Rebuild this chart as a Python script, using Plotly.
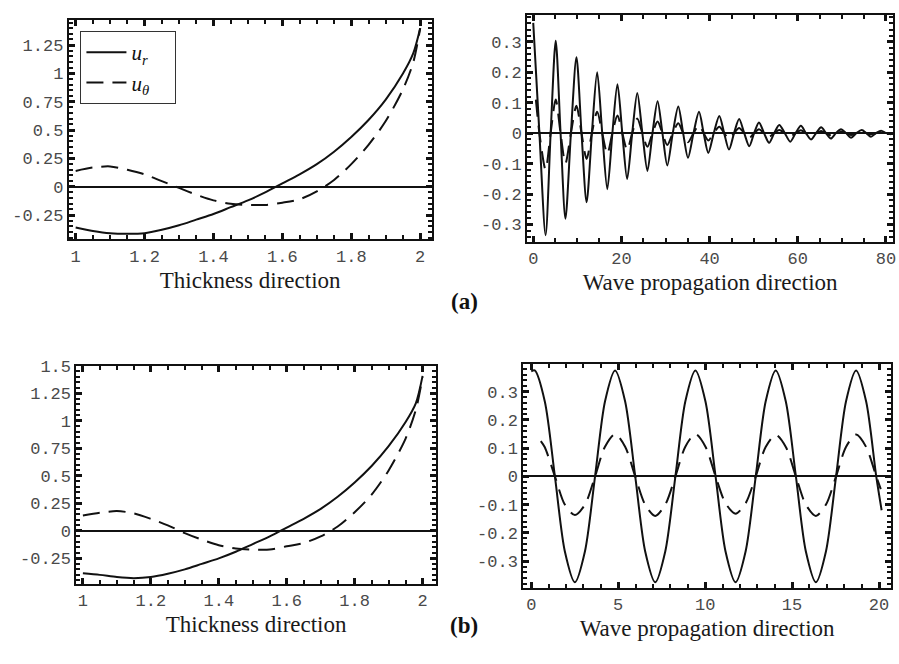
import plotly.graph_objects as go

# ---- (a) thickness direction ----
a_thick_x = [1.00, 1.05, 1.10, 1.15, 1.20, 1.25, 1.30, 1.35, 1.40, 1.45, 1.50,
             1.55, 1.60, 1.65, 1.70, 1.75, 1.80, 1.85, 1.90, 1.95, 1.98, 2.00]
a_thick_ur = [-0.36, -0.39, -0.41, -0.415, -0.41, -0.38, -0.34, -0.29, -0.24, -0.18, -0.12,
              -0.05, 0.03, 0.11, 0.20, 0.31, 0.44, 0.59, 0.77, 1.00, 1.18, 1.40]
a_thick_ut = [0.14, 0.17, 0.18, 0.15, 0.11, 0.05, -0.01, -0.07, -0.12, -0.15, -0.16,
              -0.16, -0.14, -0.11, -0.04, 0.06, 0.20, 0.37, 0.58, 0.86, 1.10, 1.40]

# ---- (a) wave propagation direction (decaying) ----
a_wave_x = [0.0, 1.4, 2.8, 3.95, 5.1, 6.2, 7.3, 8.55, 9.8, 10.95, 12.1, 13.3, 14.5, 15.65,
            16.8, 17.95, 19.1, 20.2, 21.3, 22.45, 23.6, 24.75, 25.9, 27.05, 28.2, 29.3,
            30.4, 31.65, 32.9, 34.0, 35.1, 36.35, 37.6, 38.65, 39.7, 40.95, 42.2, 43.3,
            44.4, 45.55, 46.7, 47.85, 49.0, 50.1, 51.2, 52.35, 53.5, 54.65, 55.8, 57.05,
            58.3, 59.5, 60.7, 61.85, 63.0, 64.15, 65.3, 66.4, 67.5, 68.65, 69.8, 70.95,
            72.1, 73.3, 74.5, 75.55, 76.6, 77.75, 78.9, 80.05, 81.2]
a_wave_ur = [0.362, 0.0, -0.335, 0.0, 0.303, 0.0, -0.281, 0.0, 0.249, 0.0, -0.227, 0.0,
             0.200, 0.0, -0.184, 0.0, 0.160, 0.0, -0.151, 0.0, 0.132, 0.0, -0.124, 0.0,
             0.105, 0.0, -0.106, 0.0, 0.087, 0.0, -0.081, 0.0, 0.070, 0.0, -0.065, 0.0,
             0.056, 0.0, -0.054, 0.0, 0.046, 0.0, -0.043, 0.0, 0.035, 0.0, -0.032, 0.0,
             0.027, 0.0, -0.028, 0.0, 0.024, 0.0, -0.021, 0.0, 0.019, 0.0, -0.018, 0.0,
             0.013, 0.0, -0.015, 0.0, 0.010, 0.0, -0.012, 0.0, 0.008, 0.0, -0.004]
a_wave_xt = [0.6] + a_wave_x[1:]
a_wave_ut = [0.11, 0.0, -0.12, 0.0, 0.11, 0.0, -0.10, 0.0, 0.09, 0.0, -0.085, 0.0,
             0.07, 0.0, -0.068, 0.0, 0.058, 0.0, -0.055, 0.0, 0.048, 0.0, -0.045, 0.0,
             0.038, 0.0, -0.039, 0.0, 0.032, 0.0, -0.030, 0.0, 0.026, 0.0, -0.024, 0.0,
             0.021, 0.0, -0.020, 0.0, 0.017, 0.0, -0.016, 0.0, 0.013, 0.0, -0.012, 0.0,
             0.010, 0.0, -0.010, 0.0, 0.009, 0.0, -0.008, 0.0, 0.007, 0.0, -0.007, 0.0,
             0.005, 0.0, -0.006, 0.0, 0.004, 0.0, -0.004, 0.0, 0.003, 0.0, -0.002]

# ---- (b) thickness direction ----
b_thick_x = [1.00, 1.05, 1.10, 1.15, 1.20, 1.25, 1.30, 1.35, 1.40, 1.45, 1.50,
             1.55, 1.60, 1.65, 1.70, 1.75, 1.80, 1.85, 1.90, 1.95, 1.98, 2.00]
b_thick_ur = [-0.385, -0.40, -0.42, -0.43, -0.42, -0.39, -0.35, -0.30, -0.25, -0.19, -0.12,
              -0.05, 0.03, 0.11, 0.20, 0.31, 0.44, 0.59, 0.77, 0.99, 1.16, 1.41]
b_thick_ut = [0.14, 0.165, 0.18, 0.16, 0.11, 0.05, -0.02, -0.08, -0.13, -0.16, -0.17,
              -0.17, -0.14, -0.11, -0.05, 0.04, 0.17, 0.33, 0.55, 0.84, 1.10, 1.40]

# ---- (b) wave propagation direction (steady) ----
b_wave_x = [0.0, 0.2, 0.78, 1.36, 1.93, 2.51, 3.09, 3.67, 4.24, 4.82, 5.40, 5.98, 6.55,
            7.13, 7.71, 8.29, 8.86, 9.44, 10.02, 10.60, 11.17, 11.75, 12.33, 12.91,
            13.48, 14.06, 14.64, 15.22, 15.79, 16.37, 16.95, 17.53, 18.10, 18.68, 19.26,
            19.84, 20.15]
b_wave_ur = [0.372, 0.375, 0.265, 0.0, -0.265, -0.375, -0.265, 0.0, 0.265, 0.375, 0.265,
             0.0, -0.265, -0.375, -0.265, 0.0, 0.265, 0.375, 0.265, 0.0, -0.265, -0.375,
             -0.265, 0.0, 0.265, 0.375, 0.265, 0.0, -0.265, -0.375, -0.265, 0.0, 0.265,
             0.375, 0.265, 0.0, -0.12]
b_wave_xt = [0.55, 0.78, 1.36, 1.93, 2.51, 3.09, 3.67, 4.24, 4.82, 5.40, 5.98, 6.55,
             7.13, 7.71, 8.29, 8.86, 9.44, 10.02, 10.60, 11.17, 11.75, 12.33, 12.91,
             13.48, 14.06, 14.64, 15.22, 15.79, 16.37, 16.95, 17.53, 18.10, 18.68, 19.26,
             19.84, 20.10]
b_wave_ut = [0.125, 0.103, 0.0, -0.100, -0.137, -0.100, 0.0, 0.105, 0.150, 0.105, 0.0,
             -0.100, -0.140, -0.100, 0.0, 0.105, 0.150, 0.105, 0.0, -0.095, -0.132, -0.095,
             0.0, 0.104, 0.147, 0.104, 0.0, -0.100, -0.140, -0.100, 0.0, 0.104, 0.148,
             0.104, 0.0, -0.045]

# ---- tick labels ----
thick_ticks = [1.0, 1.2, 1.4, 1.6, 1.8, 2.0]
thick_ticktext = ["1", "1.2", "1.4", "1.6", "1.8", "2"]
a_thick_yticks = [-0.25, 0, 0.25, 0.5, 0.75, 1.0, 1.25]
a_thick_ytext = ["-0.25", "0", "0.25", "0.5", "0.75", "1", "1.25"]
b_thick_yticks = [-0.25, 0, 0.25, 0.5, 0.75, 1.0, 1.25, 1.5]
b_thick_ytext = ["-0.25", "0", "0.25", "0.5", "0.75", "1", "1.25", "1.5"]
a_wave_xticks = [0, 20, 40, 60, 80]
a_wave_xtext = ["0", "20", "40", "60", "80"]
b_wave_xticks = [0, 5, 10, 15, 20]
b_wave_xtext = ["0", "5", "10", "15", "20"]
wave_yticks = [-0.3, -0.2, -0.1, 0, 0.1, 0.2, 0.3]
wave_ytext = ["-0.3", "-0.2", "-0.1", "0", "0.1", "0.2", "0.3"]

W, H = 899, 664
INK = "#111111"
DASH = "17px,9px"


def dom_x(a, b):
    return [a / W, b / W]


def dom_y(top, bottom):
    return [1 - bottom / H, 1 - top / H]


fig = go.Figure()


def add_pair(xs_r, ys_r, xs_t, ys_t, xa, ya, legend=False):
    fig.add_trace(go.Scatter(x=xs_r, y=ys_r, mode="lines",
                             name="<i>u<sub>r</sub></i>&nbsp;&nbsp;&nbsp;&nbsp;",
                             line=dict(color=INK, width=2, shape="spline", smoothing=0.8),
                             xaxis=xa, yaxis=ya, showlegend=legend))
    fig.add_trace(go.Scatter(x=xs_t, y=ys_t, mode="lines",
                             name="<i>u<sub>θ</sub></i>&nbsp;&nbsp;&nbsp;&nbsp;",
                             line=dict(color=INK, width=2, dash=DASH, shape="spline", smoothing=0.8),
                             xaxis=xa, yaxis=ya, showlegend=legend))


add_pair(a_thick_x, a_thick_ur, a_thick_x, a_thick_ut, "x", "y", legend=True)
add_pair(a_wave_x, a_wave_ur, a_wave_xt, a_wave_ut, "x2", "y2")
add_pair(b_thick_x, b_thick_ur, b_thick_x, b_thick_ut, "x3", "y3")
add_pair(b_wave_x, b_wave_ur, b_wave_xt, b_wave_ut, "x4", "y4")

tick_font = dict(family="Liberation Mono", size=17, color="#4a4a4a")
title_font = dict(family="Liberation Serif", size=23, color="#1a1a1a")


def xaxis(domain, rng, tv, tt, minor, anchor, title):
    return dict(domain=domain, range=rng, anchor=anchor, tickvals=tv, ticktext=tt,
                ticks="inside", ticklen=6, tickwidth=3, tickcolor=INK,
                minor=dict(dtick=minor, tick0=0, ticks="inside", ticklen=4, tickwidth=2,
                           tickcolor=INK, showgrid=False),
                showline=True, linewidth=2, linecolor=INK, mirror="allticks",
                showgrid=False, zeroline=False, tickfont=tick_font,
                ticklabeloverflow="allow",
                title=dict(text=title, font=title_font, standoff=6))


def yaxis(domain, rng, tv, tt, minor, anchor):
    return dict(domain=domain, range=rng, anchor=anchor, tickvals=tv, ticktext=tt,
                ticks="inside", ticklen=6, tickwidth=3, tickcolor=INK,
                minor=dict(dtick=minor, tick0=0, ticks="inside", ticklen=4, tickwidth=2,
                           tickcolor=INK, showgrid=False),
                showline=True, linewidth=2, linecolor=INK, mirror="allticks",
                showgrid=False, zeroline=True, zerolinecolor=INK, zerolinewidth=1.5,
                ticklabeloverflow="allow", tickfont=tick_font)


fig.update_layout(
    width=W, height=H,
    margin=dict(l=0, r=0, t=0, b=0),
    paper_bgcolor="white", plot_bgcolor="white",
    xaxis=xaxis(dom_x(69, 433), [0.980, 2.033], thick_ticks, thick_ticktext, 0.05, "y",
                "Thickness direction"),
    yaxis=yaxis(dom_y(11.7, 234.3), [-0.465, 1.476], a_thick_yticks, a_thick_ytext, 0.05, "x"),
    xaxis2=xaxis(dom_x(529, 896), [-1.36, 81.6], a_wave_xticks, a_wave_xtext, 5, "y2",
                 "Wave propagation direction"),
    yaxis2=yaxis(dom_y(6.7, 236.7), [-0.357, 0.389], wave_yticks, wave_ytext, 0.02, "x2"),
    xaxis3=xaxis(dom_x(76.7, 437.3), [0.981, 2.039], thick_ticks, thick_ticktext, 0.05, "y3",
                 "Thickness direction"),
    yaxis3=yaxis(dom_y(362, 582.7), [-0.48, 1.503], b_thick_yticks, b_thick_ytext, 0.05, "x3"),
    xaxis4=xaxis(dom_x(525, 894), [-0.46, 20.69], b_wave_xticks, b_wave_xtext, 1, "y4",
                 "Wave propagation direction"),
    yaxis4=yaxis(dom_y(360, 586.7), [-0.394, 0.399], wave_yticks, wave_ytext, 0.02, "x4"),
    legend=dict(x=80.7 / W, y=1 - 23.3 / H, xanchor="left", yanchor="top",
                bordercolor="#333333", borderwidth=1, bgcolor="white",
                font=dict(family="Liberation Serif", size=21, color=INK),
                tracegroupgap=0, itemwidth=40),
    annotations=[
        dict(text="<b>(a)</b>", x=466 / W, y=1 - 297 / H, xref="paper", yref="paper",
             showarrow=False, font=dict(family="Liberation Serif", size=23, color=INK)),
        dict(text="<b>(b)</b>", x=466 / W, y=1 - 640 / H, xref="paper", yref="paper",
             showarrow=False, font=dict(family="Liberation Serif", size=23, color=INK)),
    ],
)

fig.write_html("out.html")
